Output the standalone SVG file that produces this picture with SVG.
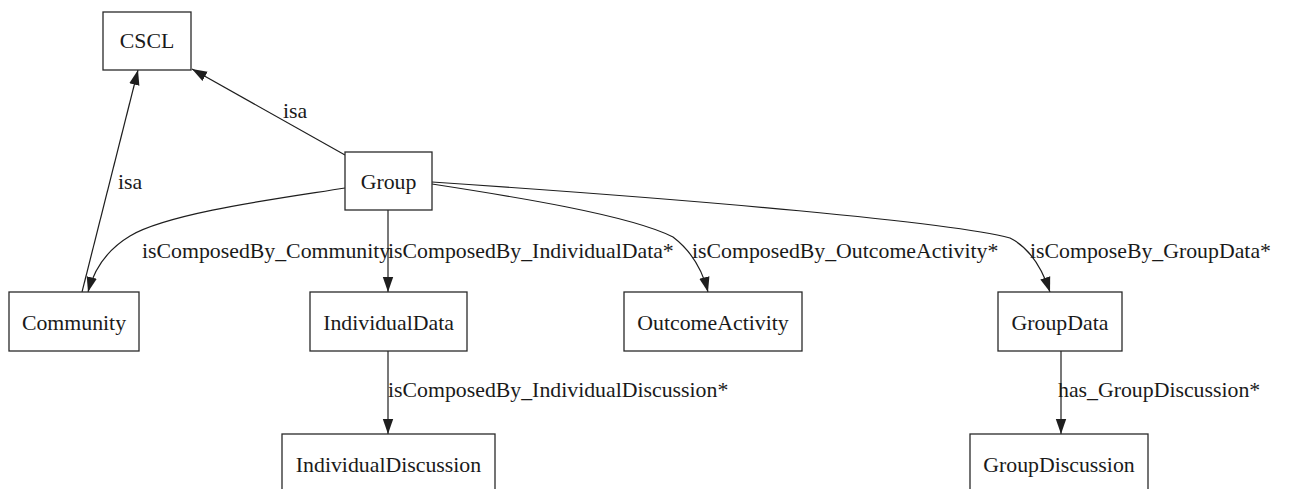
<svg xmlns="http://www.w3.org/2000/svg" width="1290" height="489" viewBox="0 0 1290 489">
  <style>
    .node rect { fill: #ffffff; stroke: #2a2a2a; stroke-width: 1.3; }
    .node text { font-family: "Liberation Serif", "Times New Roman", serif; font-size: 21.8px; fill: #1a1a1a; text-anchor: middle; }
    .edge { fill: none; stroke: #1e1e1e; stroke-width: 1.2; }
    .elabel { font-family: "Liberation Serif", "Times New Roman", serif; font-size: 21.8px; fill: #1a1a1a; }
  </style>
  <defs>
    <marker id="arrow" markerUnits="userSpaceOnUse" markerWidth="16" markerHeight="12" viewBox="0 0 16 12" refX="15" refY="6" orient="auto">
      <path d="M0,0.8 L15,6 L0,11.2 Z" fill="#1e1e1e"/>
    </marker>
  </defs>
  <rect width="1290" height="489" fill="#ffffff"/>

  <!-- connectors -->
  <g id="edges">
    <path class="edge" d="M345,155 L192,69" marker-end="url(#arrow)"/>
    <path class="edge" d="M82,292 L138,70" marker-end="url(#arrow)"/>
    <path class="edge" d="M345,188 C290,197 170,212 130,236 C110,248 95,265 88,292" marker-end="url(#arrow)"/>
    <path class="edge" d="M388,210 L388,292" marker-end="url(#arrow)"/>
    <path class="edge" d="M432,184 C510,196 630,215 673,237 C690,250 702,268 708,292" marker-end="url(#arrow)"/>
    <path class="edge" d="M432,182 C700,200 950,222 1010,238 C1030,248 1042,268 1050,292" marker-end="url(#arrow)"/>
    <path class="edge" d="M388,351 L388,434" marker-end="url(#arrow)"/>
    <path class="edge" d="M1061,351 L1061,434" marker-end="url(#arrow)"/>

    <text class="elabel" x="283" y="118">isa</text>
    <text class="elabel" x="118" y="189">isa</text>
    <text class="elabel" x="142" y="258">isComposedBy_Community</text>
    <text class="elabel" x="388" y="258">isComposedBy_IndividualData*</text>
    <text class="elabel" x="692" y="258">isComposedBy_OutcomeActivity*</text>
    <text class="elabel" x="1030" y="258">isComposeBy_GroupData*</text>
    <text class="elabel" x="388" y="397">isComposedBy_IndividualDiscussion*</text>
    <text class="elabel" x="1058" y="397">has_GroupDiscussion*</text>
  </g>

  <g id="CSCL" class="node">
    <rect x="103" y="12" width="88" height="58"/>
    <text x="147" y="48">CSCL</text>
  </g>
  <g id="Group" class="node">
    <rect x="345" y="152" width="87" height="58"/>
    <text x="388.5" y="189">Group</text>
  </g>
  <g id="Community" class="node">
    <rect x="9" y="292" width="130" height="59"/>
    <text x="74" y="330">Community</text>
  </g>
  <g id="IndividualData" class="node">
    <rect x="310" y="292" width="157" height="59"/>
    <text x="388.5" y="330">IndividualData</text>
  </g>
  <g id="OutcomeActivity" class="node">
    <rect x="624" y="292" width="178" height="59"/>
    <text x="713" y="330">OutcomeActivity</text>
  </g>
  <g id="GroupData" class="node">
    <rect x="998" y="292" width="124" height="59"/>
    <text x="1060" y="330">GroupData</text>
  </g>
  <g id="IndividualDiscussion" class="node">
    <rect x="282" y="434" width="213" height="60"/>
    <text x="388.5" y="472">IndividualDiscussion</text>
  </g>
  <g id="GroupDiscussion" class="node">
    <rect x="970" y="434" width="178" height="60"/>
    <text x="1059" y="472">GroupDiscussion</text>
  </g>
</svg>
